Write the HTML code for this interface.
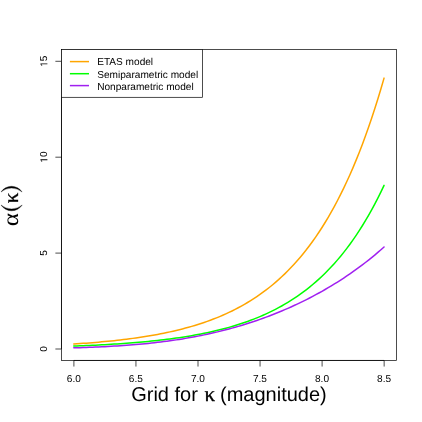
<!DOCTYPE html>
<html><head><meta charset="utf-8"><title>plot</title>
<style>html,body{margin:0;padding:0;background:#fff;}body{width:422px;height:422px;overflow:hidden;font-family:"Liberation Sans",sans-serif;}svg{display:block;will-change:transform;}text{text-rendering:geometricPrecision;}</style>
</head><body>
<svg width="422" height="422" viewBox="0 0 422 422">
<rect x="0" y="0" width="422" height="422" fill="#fff"/>
<g fill="none" stroke-width="1.5" stroke-linecap="round" stroke-linejoin="round">
<path d="M73.80,343.99 L76.90,343.79 L80.00,343.58 L83.11,343.36 L86.21,343.14 L89.31,342.90 L92.42,342.65 L95.52,342.40 L98.62,342.13 L101.72,341.86 L104.82,341.57 L107.93,341.27 L111.03,340.96 L114.13,340.63 L117.23,340.29 L120.34,339.94 L123.44,339.57 L126.54,339.19 L129.65,338.79 L132.75,338.38 L135.85,337.95 L138.95,337.50 L142.05,337.04 L145.16,336.55 L148.26,336.05 L151.36,335.52 L154.47,334.97 L157.57,334.40 L160.67,333.81 L163.77,333.19 L166.88,332.55 L169.98,331.88 L173.08,331.18 L176.18,330.46 L179.28,329.70 L182.39,328.92 L185.49,328.10 L188.59,327.25 L191.69,326.36 L194.80,325.44 L197.90,324.48 L201.00,323.48 L204.10,322.44 L207.21,321.36 L210.31,320.23 L213.41,319.06 L216.52,317.84 L219.62,316.57 L222.72,315.25 L225.82,313.87 L228.93,312.44 L232.03,310.95 L235.13,309.39 L238.23,307.78 L241.33,306.09 L244.44,304.34 L247.54,302.52 L250.64,300.62 L253.75,298.65 L256.85,296.59 L259.95,294.45 L263.05,292.22 L266.15,289.90 L269.26,287.49 L272.36,284.98 L275.46,282.36 L278.57,279.64 L281.67,276.80 L284.77,273.85 L287.87,270.78 L290.97,267.59 L294.08,264.26 L297.18,260.80 L300.28,257.19 L303.38,253.44 L306.49,249.54 L309.59,245.47 L312.69,241.24 L315.80,236.83 L318.90,232.25 L322.00,227.48 L325.10,222.51 L328.21,217.34 L331.31,211.95 L334.41,206.35 L337.51,200.52 L340.62,194.45 L343.72,188.13 L346.82,181.55 L349.92,174.70 L353.02,167.58 L356.13,160.16 L359.23,152.43 L362.33,144.40 L365.43,136.03 L368.54,127.32 L371.64,118.25 L374.74,108.82 L377.84,98.99 L380.95,88.77 L384.05,78.12" stroke="#FFA500"/>
<path d="M73.80,346.06 L76.90,345.94 L80.00,345.82 L83.11,345.69 L86.21,345.56 L89.31,345.42 L92.42,345.28 L95.52,345.13 L98.62,344.97 L101.72,344.81 L104.82,344.64 L107.93,344.47 L111.03,344.28 L114.13,344.09 L117.23,343.89 L120.34,343.69 L123.44,343.47 L126.54,343.25 L129.65,343.01 L132.75,342.77 L135.85,342.51 L138.95,342.25 L142.05,341.97 L145.16,341.69 L148.26,341.39 L151.36,341.08 L154.47,340.76 L157.57,340.42 L160.67,340.07 L163.77,339.70 L166.88,339.32 L169.98,338.93 L173.08,338.51 L176.18,338.08 L179.28,337.64 L182.39,337.17 L185.49,336.68 L188.59,336.18 L191.69,335.65 L194.80,335.11 L197.90,334.53 L201.00,333.94 L204.10,333.32 L207.21,332.68 L210.31,332.01 L213.41,331.31 L216.52,330.58 L219.62,329.82 L222.72,329.03 L225.82,328.21 L228.93,327.35 L232.03,326.46 L235.13,325.53 L238.23,324.57 L241.33,323.56 L244.44,322.51 L247.54,321.42 L250.64,320.28 L253.75,319.10 L256.85,317.87 L259.95,316.58 L263.05,315.25 L266.15,313.85 L269.26,312.40 L272.36,310.89 L275.46,309.32 L278.57,307.69 L281.67,305.98 L284.77,304.20 L287.87,302.36 L290.97,300.43 L294.08,298.42 L297.18,296.34 L300.28,294.16 L303.38,291.90 L306.49,289.54 L309.59,287.08 L312.69,284.53 L315.80,281.86 L318.90,279.09 L322.00,276.20 L325.10,273.19 L328.21,270.06 L331.31,266.80 L334.41,263.40 L337.51,259.87 L340.62,256.18 L343.72,252.35 L346.82,248.35 L349.92,244.19 L353.02,239.86 L356.13,235.35 L359.23,230.65 L362.33,225.76 L365.43,220.67 L368.54,215.36 L371.64,209.84 L374.74,204.08 L377.84,198.09 L380.95,191.85 L384.05,185.36" stroke="#00FF00"/>
<path d="M73.80,347.82 L76.90,347.73 L80.00,347.63 L83.11,347.53 L86.21,347.43 L89.31,347.31 L92.42,347.19 L95.52,347.07 L98.62,346.93 L101.72,346.79 L104.82,346.63 L107.93,346.47 L111.03,346.30 L114.13,346.12 L117.23,345.93 L120.34,345.73 L123.44,345.52 L126.54,345.29 L129.65,345.06 L132.75,344.81 L135.85,344.55 L138.95,344.28 L142.05,344.00 L145.16,343.70 L148.26,343.38 L151.36,343.06 L154.47,342.71 L157.57,342.36 L160.67,341.98 L163.77,341.59 L166.88,341.19 L169.98,340.76 L173.08,340.32 L176.18,339.87 L179.28,339.39 L182.39,338.89 L185.49,338.38 L188.59,337.85 L191.69,337.29 L194.80,336.72 L197.90,336.13 L201.00,335.51 L204.10,334.87 L207.21,334.22 L210.31,333.54 L213.41,332.83 L216.52,332.11 L219.62,331.36 L222.72,330.59 L225.82,329.79 L228.93,328.98 L232.03,328.13 L235.13,327.26 L238.23,326.37 L241.33,325.45 L244.44,324.50 L247.54,323.53 L250.64,322.53 L253.75,321.51 L256.85,320.45 L259.95,319.37 L263.05,318.26 L266.15,317.13 L269.26,315.96 L272.36,314.77 L275.46,313.54 L278.57,312.29 L281.67,311.00 L284.77,309.68 L287.87,308.34 L290.97,306.96 L294.08,305.54 L297.18,304.10 L300.28,302.62 L303.38,301.11 L306.49,299.56 L309.59,297.98 L312.69,296.36 L315.80,294.70 L318.90,293.01 L322.00,291.28 L325.10,289.51 L328.21,287.70 L331.31,285.85 L334.41,283.96 L337.51,282.03 L340.62,280.05 L343.72,278.03 L346.82,275.96 L349.92,273.84 L353.02,271.68 L356.13,269.46 L359.23,267.20 L362.33,264.88 L365.43,262.51 L368.54,260.08 L371.64,257.59 L374.74,255.05 L377.84,252.44 L380.95,249.77 L384.05,247.03" stroke="#A020F0"/>
</g>
<rect x="61.49" y="49.43" width="335.13" height="311.02" fill="none" stroke="#000" stroke-width="0.7"/>
<g stroke="#000" stroke-width="0.7" fill="none">
<line x1="73.80" y1="360.45" x2="384.05" y2="360.45"/>
<line x1="61.49" y1="348.90" x2="61.49" y2="61.20"/>
<line x1="73.90" y1="360.45" x2="73.90" y2="366.55"/>
<line x1="135.95" y1="360.45" x2="135.95" y2="366.55"/>
<line x1="198.00" y1="360.45" x2="198.00" y2="366.55"/>
<line x1="260.05" y1="360.45" x2="260.05" y2="366.55"/>
<line x1="322.10" y1="360.45" x2="322.10" y2="366.55"/>
<line x1="384.15" y1="360.45" x2="384.15" y2="366.55"/>
<line x1="55.39" y1="349.00" x2="61.49" y2="349.00"/>
<line x1="55.39" y1="253.10" x2="61.49" y2="253.10"/>
<line x1="55.39" y1="157.20" x2="61.49" y2="157.20"/>
<line x1="55.39" y1="61.30" x2="61.49" y2="61.30"/>
</g>
<g font-family="Liberation Sans, sans-serif" font-size="10.1" fill="#000" text-anchor="middle">
<text transform="translate(73.8,382.2)">6.0</text>
<text transform="translate(135.8,382.2)">6.5</text>
<text transform="translate(197.9,382.2)">7.0</text>
<text transform="translate(259.9,382.2)">7.5</text>
<text transform="translate(322.0,382.2)">8.0</text>
<text transform="translate(384.1,382.2)">8.5</text>
<text transform="translate(47.4,348.9) rotate(-90)">0</text>
<text transform="translate(47.4,253.0) rotate(-90)">5</text>
<g transform="translate(47.4,157.1) rotate(-90)"><path transform="translate(-5.618,0) scale(0.004932,-0.004932)" d="M515 0V1237L197 1010V1180L530 1409H696V0Z"/><text x="0" y="0" text-anchor="start">0</text></g>
<g transform="translate(47.4,61.2) rotate(-90)"><path transform="translate(-5.618,0) scale(0.004932,-0.004932)" d="M515 0V1237L197 1010V1180L530 1409H696V0Z"/><text x="0" y="0" text-anchor="start">5</text></g>
</g>
<rect x="61.49" y="49.43" width="141.01" height="47.87" fill="#fff" stroke="#000" stroke-width="0.7"/>
<line x1="69.9" y1="61.6" x2="89" y2="61.6" stroke="#FFA500" stroke-width="1.5"/>
<text x="97.2" y="65.1" font-family="Liberation Sans, sans-serif" font-size="10.1" fill="#000">ETAS model</text>
<line x1="69.9" y1="73.7" x2="89" y2="73.7" stroke="#00FF00" stroke-width="1.5"/>
<text x="97.2" y="77.7" font-family="Liberation Sans, sans-serif" font-size="10.1" fill="#000">Semiparametric model</text>
<line x1="69.9" y1="85.6" x2="89" y2="85.6" stroke="#A020F0" stroke-width="1.5"/>
<text x="97.2" y="89.5" font-family="Liberation Sans, sans-serif" font-size="10.1" fill="#000">Nonparametric model</text>
<g font-size="20" fill="#000">
<text x="131.2" y="401.4" font-family="Liberation Sans, sans-serif">Grid for</text>
<text transform="translate(204.5,401.4)" font-family="Liberation Serif, serif" font-size="21" stroke="#000" stroke-width="0.35">κ</text>
<text x="220" y="401.4" font-family="Liberation Sans, sans-serif">(magnitude)</text>
</g>
<g font-family="Liberation Serif, serif" font-size="21" fill="#000">
<text transform="translate(18.4,226.2) rotate(-90) scale(1.2,1.07)">α</text>
<text transform="translate(18.4,203.3) rotate(-90)" stroke="#000" stroke-width="0.3">κ</text>
</g>
<g fill="#000" stroke="#000" stroke-width="0.35" stroke-linejoin="round">
<path d="M1.0,205.0 A12.6,12.6 0 0 0 22.2,205.0 A16.2,16.2 0 0 1 1.0,205.0 Z"/>
<path d="M1.0,192.0 A12.6,12.6 0 0 1 22.1,192.0 A16.2,16.2 0 0 0 1.0,192.0 Z"/>
</g>
</svg>
</body></html>
